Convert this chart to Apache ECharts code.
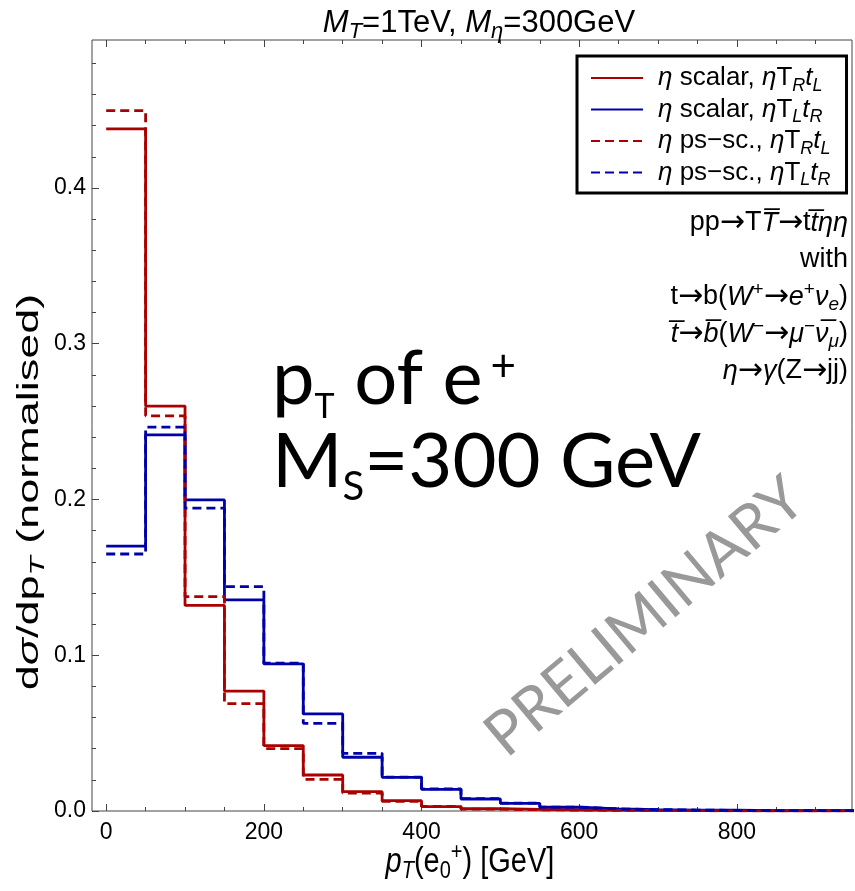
<!DOCTYPE html>
<html>
<head>
<meta charset="utf-8">
<script src="https://cdn.jsdelivr.net/npm/echarts@6/dist/echarts.min.js"></script>
<style>
  html, body { margin: 0; padding: 0; background: #ffffff; }
  #chart { width: 855px; height: 891px; }
</style>
</head>
<body>
<div id="chart"></div>
<script>
// Histogram bins: lower edges in GeV (width 50 GeV), last upper edge separately
const binEdges = [0, 50, 100, 150, 200, 250, 300, 350, 400, 450, 500, 550, 600, 650, 700, 750, 800, 850, 900, 950];
const lastUpperEdge = 1000;

// Normalised dσ/dpT of the positron, one value per bin
const scalarTRtL = [0.438, 0.260, 0.132, 0.077, 0.042, 0.0231, 0.0124, 0.0066, 0.0028, 0.0015, 0.0010, 0.0007, 0.0005, 0.0003, 0.0002, 0.0002, 0.0001, 0.0001, 0.0001, 0.0001];
const scalarTLtR = [0.170, 0.2415, 0.1997, 0.1355, 0.0944, 0.0623, 0.0345, 0.0216, 0.0139, 0.0077, 0.0049, 0.0024, 0.0013, 0.0009, 0.0006, 0.0005, 0.0003, 0.0002, 0.0002, 0.0001];
const pseudoTRtL = [0.4496, 0.2537, 0.1376, 0.069, 0.040, 0.0203, 0.0115, 0.0062, 0.0030, 0.0012, 0.0008, 0.0006, 0.0004, 0.0003, 0.0002, 0.0001, 0.0001, 0.0001, 0.0001, 0.0001];
const pseudoTLtR = [0.165, 0.2464, 0.1944, 0.144, 0.0950, 0.0563, 0.0370, 0.0218, 0.0142, 0.0079, 0.0051, 0.0025, 0.0014, 0.0009, 0.0006, 0.0004, 0.0003, 0.0002, 0.0002, 0.0001];

// Axis ticks
const xMajorTicks = [0, 200, 400, 600, 800];
const xMinorTicks = [50, 100, 150, 250, 300, 350, 450, 500, 550, 650, 700, 750, 850, 900];
const yMajorTicks = [0, 0.1, 0.2, 0.3, 0.4];
const yMinorTicks = [0.02, 0.04, 0.06, 0.08, 0.12, 0.14, 0.16, 0.18, 0.22, 0.24, 0.26, 0.28, 0.32, 0.34, 0.36, 0.38, 0.42, 0.44, 0.46, 0.48];

const RED = '#aa0000';
const BLUE = '#0000aa';
const TXT_FONT = "'Liberation Sans', Arial, sans-serif";
const ARROW_FONT = "'DejaVu Sans', sans-serif";
const BIG_FONT = "Lato, 'Noto Sans', sans-serif";

// Rich-text styles giving italic, subscript, superscript and arrow fragments
function richSet(base, family) {
  const L = Math.round(base * 1.25);
  const small = Math.round(base * 0.7);
  const common = { fontFamily: family, color: '#000', fontWeight: 'normal' };
  return {
    n: Object.assign({ fontSize: base, lineHeight: L }, common),
    i: Object.assign({ fontSize: base, lineHeight: L, fontStyle: 'italic' }, common),
    a: Object.assign({ fontSize: Math.round(base * 1.1), lineHeight: L }, common, { fontFamily: ARROW_FONT }),
    sub: Object.assign({ fontSize: small, lineHeight: Math.round(base * 0.63), verticalAlign: 'bottom' }, common),
    isub: Object.assign({ fontSize: small, lineHeight: Math.round(base * 0.63), verticalAlign: 'bottom', fontStyle: 'italic' }, common),
    sup: Object.assign({ fontSize: small, lineHeight: Math.round(base * 0.67), verticalAlign: 'top' }, common)
  };
}

// Step-shaped histogram outline from bin edges and values
function histData(values) {
  const pts = binEdges.map((e, k) => [e, values[k]]);
  pts.push([lastUpperEdge, values[values.length - 1]]);
  return pts;
}

const seriesDefs = [
  { name: 'scalarTRtL', values: scalarTRtL, color: RED, type: 'solid' },
  { name: 'scalarTLtR', values: scalarTLtR, color: BLUE, type: 'solid' },
  { name: 'pseudoTRtL', values: pseudoTRtL, color: RED, type: [9, 5] },
  { name: 'pseudoTLtR', values: pseudoTLtR, color: BLUE, type: [9, 5] }
];

const legendLabels = {
  scalarTRtL: '{i|η}{n| scalar, }{i|η}{n|T}{isub|R}{i|t}{isub|L}',
  scalarTLtR: '{i|η}{n| scalar, }{i|η}{n|T}{isub|L}{i|t}{isub|R}',
  pseudoTRtL: '{i|η}{n| ps−sc., }{i|η}{n|T}{isub|R}{i|t}{isub|L}',
  pseudoTLtR: '{i|η}{n| ps−sc., }{i|η}{n|T}{isub|L}{i|t}{isub|R}'
};

const processLines = [
  '{n|pp}{a|→}{n|T}{i|T\u0305}{a|→}{n|t}{i|t\u0305ηη}',
  '{n|with}',
  '{n|t}{a|→}{n|b(}{i|W}{sup|+}{a|→}{i|e}{sup|+}{i|ν}{isub|e}{n|)}',
  '{i|t\u0305}{a|→}{i|b\u0305}{n|(}{i|W}{sup|−}{a|→}{i|μ}{sup|−}{i|ν\u0305}{isub|μ}{n|)}',
  '{i|η}{a|→}{i|γ}{n|(Z}{a|→}{n|jj)}'
];
const processLineY = [223, 260, 297, 334, 371];

// Large caption styles
const bigRich = {
  n: { fontSize: 76, lineHeight: 90, fontFamily: BIG_FONT, color: '#000' },
  s1: { fontSize: 34, lineHeight: 24, verticalAlign: 'bottom', fontFamily: BIG_FONT, color: '#000' },
  s2: { fontSize: 40, lineHeight: 30, verticalAlign: 'bottom', fontFamily: BIG_FONT, color: '#000' },
  p: { fontSize: 44, lineHeight: 40, verticalAlign: 'top', fontFamily: BIG_FONT, color: '#000', padding: [11, 0, 0, 8] }
};

const chart = echarts.init(document.getElementById('chart'), null, { renderer: 'canvas' });

const grid = {
  left: 92, top: 40, width: 760, height: 771,
  containLabel: false, outerBoundsMode: 'none',
  show: true, borderColor: '#444', borderWidth: 1, backgroundColor: 'transparent'
};
const X_MIN = -18, X_MAX = 946, Y_MIN = 0, Y_MAX = 0.495;

function xAxisDef(position, ticks, len, withLabels) {
  return {
    type: 'value', position: position, min: X_MIN, max: X_MAX,
    axisLine: { show: false, onZero: false }, splitLine: { show: false },
    axisTick: { show: true, inside: true, length: len, customValues: ticks, lineStyle: { color: '#444', width: 1 } },
    axisLabel: withLabels
      ? { show: true, customValues: ticks, margin: 10, fontSize: 23, fontFamily: TXT_FONT, color: '#000' }
      : { show: false }
  };
}
function yAxisDef(ticks, len, withLabels) {
  return {
    type: 'value', position: 'left', min: Y_MIN, max: Y_MAX,
    axisLine: { show: false, onZero: false }, splitLine: { show: false },
    axisTick: { show: true, inside: true, length: len, customValues: ticks, lineStyle: { color: '#444', width: 1 } },
    axisLabel: withLabels
      ? { show: true, customValues: ticks, margin: 6, fontSize: 23, fontFamily: TXT_FONT, color: '#000', formatter: v => v.toFixed(1) }
      : { show: false }
  };
}

const option = {
  animation: false,
  backgroundColor: '#ffffff',
  title: {
    text: '{i|M}{isub|T}{n|=1TeV, }{i|M}{isub|η}{n|=300GeV}',
    left: 474, top: -1, textAlign: 'center',
    textStyle: { fontWeight: 'normal', rich: richSet(31, TXT_FONT) }
  },
  grid: grid,
  legend: {
    orient: 'vertical', left: 577, top: 56,
    itemWidth: 52, itemHeight: 14, itemGap: 2,
    padding: [9, 16, 4, 13],
    borderColor: '#000', borderWidth: 3, backgroundColor: '#fff',
    itemStyle: { opacity: 0 },
    data: seriesDefs.map(s => s.name),
    formatter: name => legendLabels[name],
    textStyle: { padding: [0, 0, 0, 10], rich: richSet(26, TXT_FONT) }
  },
  xAxis: [
    xAxisDef('bottom', xMajorTicks, 7, true),
    xAxisDef('bottom', xMinorTicks, 4, false),
    xAxisDef('top', xMajorTicks, 7, false),
    xAxisDef('top', xMinorTicks, 4, false)
  ],
  yAxis: [
    yAxisDef(yMajorTicks, 7, true),
    yAxisDef(yMinorTicks, 4, false)
  ],
  series: seriesDefs.map(s => ({
    name: s.name,
    type: 'line',
    step: 'end',
    xAxisIndex: 0, yAxisIndex: 0,
    symbol: 'none',
    data: histData(s.values),
    lineStyle: { color: s.color, width: 2.8, type: s.type },
    itemStyle: { color: s.color },
    clip: true
  })),
  graphic: [
    // y-axis title, drawn tall along the axis
    {
      type: 'text', x: 30, y: 492, rotation: Math.PI / 2, scaleX: 1.5, z: 10,
      style: { text: '{n|d}{i|σ}{n|/dp}{isub|T}{n| (normalised)}', align: 'center', verticalAlign: 'middle', rich: richSet(30, TXT_FONT) }
    },
    // x-axis title
    {
      type: 'text', x: 470, y: 862, scaleY: 1.2, z: 10,
      style: { text: '{i|p}{isub|T}{n|(e}{sub|0}{sup|+}{n|) [GeV]}', align: 'center', verticalAlign: 'middle', rich: richSet(29, TXT_FONT) }
    },
    ...processLines.map((t, k) => ({
      type: 'text', x: 848, y: processLineY[k], z: 10,
      style: { text: t, align: 'right', verticalAlign: 'middle', rich: richSet(27, TXT_FONT) }
    })),
    {
      type: 'text', x: 272, y: 379, z: 10,
      style: { text: '{n|p}{s1|T}{n| of e}{p|+}', align: 'left', verticalAlign: 'middle', rich: bigRich }
    },
    {
      type: 'text', x: 272, y: 462, z: 10,
      style: { text: '{n|M}{s2|S}{n|=300 GeV}', align: 'left', verticalAlign: 'middle', rich: bigRich }
    },
    {
      type: 'text', x: 645, y: 617, rotation: 40 * Math.PI / 180, z: 10,
      style: { text: 'PRELIMINARY', align: 'center', verticalAlign: 'middle', fontSize: 61, fontFamily: BIG_FONT, fill: '#999999' }
    }
  ]
};

chart.setOption(option);
</script>
</body>
</html>
